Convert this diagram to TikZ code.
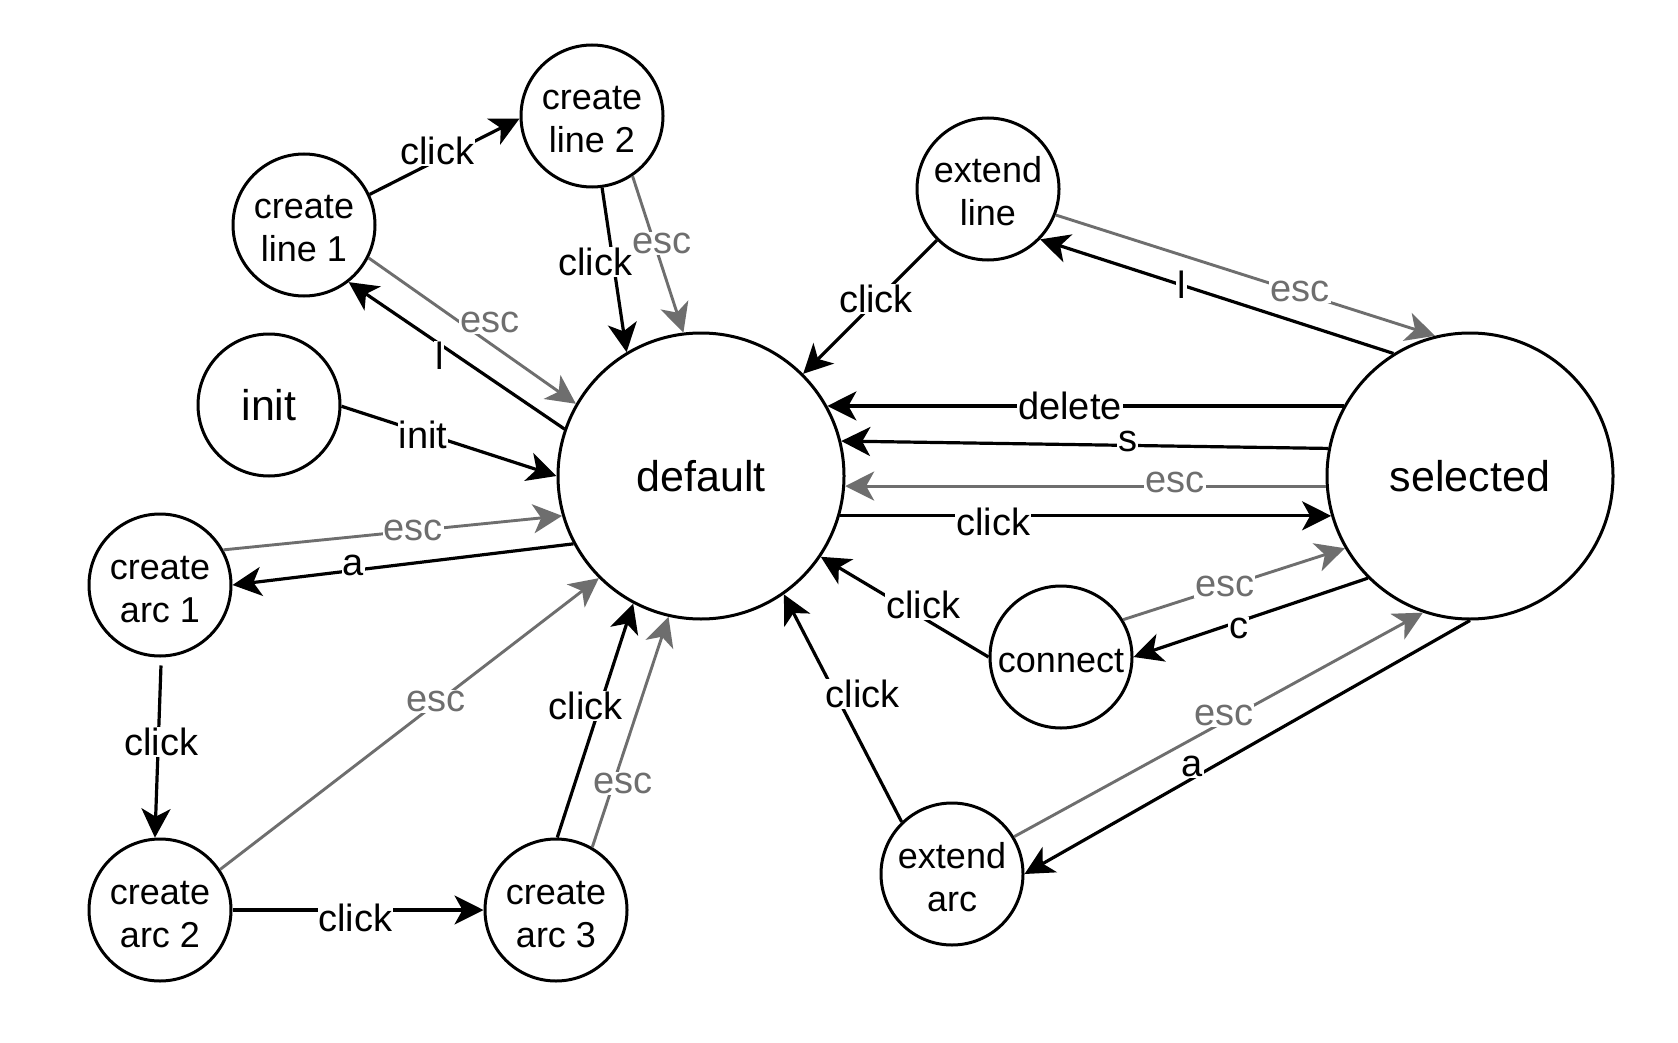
\documentclass[tikz,border=0pt]{standalone}
\usepackage{fontspec}
\setmainfont{Liberation Sans}
\usetikzlibrary{arrows.meta}
\definecolor{eg}{RGB}{110,110,110}
\newcommand{\twolines}[2]{\raisebox{-37pt}[0pt][0pt]{\begin{tabular}[b]{@{}c@{}}#1\\#2\end{tabular}}}
\begin{document}
\begin{tikzpicture}[x=1pt,y=-1pt,
  st/.style={circle,draw,line width=3pt,minimum size=142pt,inner sep=0pt,align=center,font=\fontsize{36}{43}\selectfont},
  big/.style={circle,draw,line width=3pt,minimum size=286pt,inner sep=0pt,align=center,font=\fontsize{43}{50}\selectfont},
  tr/.style={line width=3.2pt,-{Stealth[length=29pt,width=29pt,inset=8pt]}},
  esc/.style={line width=2.9pt,draw=eg,-{Stealth[length=29pt,width=29pt,inset=8pt]}},
  lb/.style={fill=white,inner sep=1pt,font=\fontsize{38}{44}\selectfont},
  lg/.style={lb,text=eg},
]
\fill[white] (0,0) rectangle (1678,1043);
\useasboundingbox (0,0) rectangle (1678,1043);

\node[st] (cl2) at (592,116) {\twolines{create}{line 2}};
\node[st] (cl1) at (304,225) {\twolines{create}{line 1}};
\node[st] (el) at (988,189) {\twolines{extend}{line}};
\node[st,font=\fontsize{43}{50}\selectfont] (init) at (269,405) {init};
\node[big] (def) at (701,476) {default};
\node[big] (sel) at (1470,476) {selected};
\node[st] (ca1) at (160,585) {\twolines{create}{arc 1}};
\node[st] (con) at (1061,657) {\raisebox{-15pt}[0pt][0pt]{connect}};
\node[st] (ca2) at (160,910) {\twolines{create}{arc 2}};
\node[st] (ca3) at (556,910) {\twolines{create}{arc 3}};
\node[st] (ea) at (952,874) {\twolines{extend}{arc}};

\draw[tr] (cl1.25) -- node[lb,pos=.45,yshift=9pt]{click} (cl2.182);
\draw[tr] (cl2.-82) -- node[lb,pos=.45,xshift=-18pt]{click} (def.121);
\draw[esc] (cl2.-56) -- node[lg,pos=.42,xshift=8pt,yshift=-2pt]{esc} (def.97);
\draw[tr] (def.161) -- node[lb,pos=.58,yshift=-12pt]{l} (cl1.-52);
\draw[esc] (cl1.-27) -- node[lg,pos=.585,yshift=21pt]{esc} (def.150);
\draw[tr] (init.-1) -- node[lb,pos=.38,yshift=-2pt]{init} (def.180);
\draw[tr] (def.208) -- node[lb,pos=.646,yshift=5pt]{a} (ca1.0);
\draw[esc] (ca1.29) -- node[lg,pos=.56]{esc} (def.196);
\draw[tr,shorten <=8pt] (ca1.-89) -- node[lb,pos=.45,xshift=3pt,yshift=-3pt]{click} (ca2.94);
\draw[tr] (ca2.0) -- node[lb,pos=.49,yshift=-8pt]{click} (ca3.180);
\draw[esc] (ca2.34) -- node[lg,pos=.57,yshift=2pt]{esc} (def.225);
\draw[tr] (ca3.89) -- node[lb,pos=.57,xshift=-15pt,yshift=-2pt]{click} (def.242);
\draw[esc] (ca3.60) -- node[lg,pos=.285,xshift=9pt,yshift=-2pt]{esc} (def.257);
\draw[tr] (el.225) -- node[lb,pos=.47,xshift=2pt,yshift=4pt]{click} (def.45);
\draw[tr] (sel.122) -- node[lb,pos=.6]{l} (el.-44);
\draw[esc] (el.-21) -- node[lg,pos=.636,xshift=3pt]{esc} (sel.104);
\draw[tr] (sel.151) -- node[lb,pos=.53]{delete} (def.29);
\draw[tr] (sel.169) -- node[lb,pos=.42,xshift=4pt,yshift=4pt]{s} (def.14);
\draw[esc] (sel.184) -- node[lg,pos=.32,xshift=3pt,yshift=4pt]{esc} (def.-4);
\draw[tr] (def.-16) -- node[lb,pos=.31,xshift=1pt,yshift=-6pt]{click} (sel.196);
\draw[tr] (con.180) -- node[lb,pos=.42,xshift=5pt,yshift=10pt]{click} (def.-34);
\draw[esc] (con.31) -- node[lg,pos=.45,xshift=2pt,yshift=1pt]{esc} (sel.210);
\draw[tr] (sel.225) -- node[lb,pos=.55,yshift=-7pt]{c} (con.0);
\draw[tr] (ea.134) -- node[lb,pos=.57,xshift=28pt,yshift=-2pt]{click} (def.-55);
\draw[esc] (ea.31) -- node[lg,pos=.505,xshift=3pt,yshift=8pt]{esc} (sel.251);
\draw[tr] (sel.-90) -- node[lb,pos=.63,xshift=3pt,yshift=14pt]{a} (ea.0);
\end{tikzpicture}
\end{document}
